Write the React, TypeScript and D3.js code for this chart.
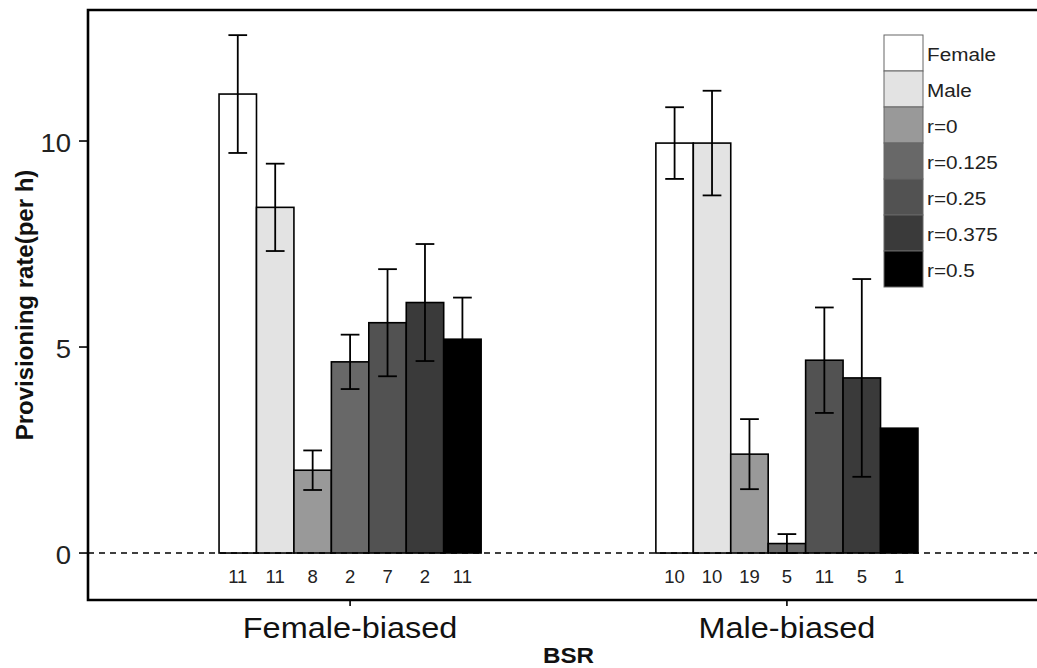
import React from "react";
import * as d3 from "d3";

const groups = ["Female-biased", "Male-biased"];
const series = ["Female", "Male", "r=0", "r=0.125", "r=0.25", "r=0.375", "r=0.5"];
const fills = ["#ffffff", "#e3e3e3", "#999999", "#686868", "#525252", "#3a3a3a", "#000000"];
const femaleBiasedMean = [11.14, 8.39, 2.01, 4.64, 5.59, 6.08, 5.19];
const femaleBiasedSE = [1.43, 1.06, 0.48, 0.66, 1.3, 1.42, 1.01];
const maleBiasedMean = [9.95, 9.95, 2.4, 0.23, 4.68, 4.25, 3.03];
const maleBiasedSE = [0.87, 1.27, 0.85, 0.23, 1.28, 2.4, 0];
const femaleBiasedN = ["11", "11", "8", "2", "7", "2", "11"];
const maleBiasedN = ["10", "10", "19", "5", "11", "5", "1"];
const yTicks = [0, 5, 10];

const W = 1037, H = 668;
const left = 88, top = 10, bottom = 600;
const FONT = "'Liberation Sans', Arial, sans-serif";

export default function App() {
  const y = d3.scaleLinear().domain([-1.14, 13.18]).range([bottom, top]);
  const x = d3.scaleLinear().domain([0.4, 2.6]).range([left, 1049]);
  const groupWidth = 0.6;
  const inner = d3.scaleBand<string>().domain(series).range([-groupWidth / 2, groupWidth / 2]);
  const means = [femaleBiasedMean, maleBiasedMean];
  const ses = [femaleBiasedSE, maleBiasedSE];
  const ns = [femaleBiasedN, maleBiasedN];
  const bw = x(inner.bandwidth()) - x(0);
  const cap = bw * 0.25;

  return (
    <svg width={W} height={H} style={{ position: "absolute", left: 0, top: 0 }} fontFamily={FONT}>
      <rect width={W} height={H} fill="#fff" />
      {groups.map((g, gi) => {
        const c = gi + 1;
        return (
          <g key={g}>
            {series.map((s, si) => {
              const x0 = x(c + (inner(s) as number));
              const m = means[gi][si];
              return (
                <rect key={s} x={x0} y={y(m)} width={bw} height={y(0) - y(m)} fill={fills[si]} stroke="#000" strokeWidth={1.6} />
              );
            })}
          </g>
        );
      })}
      <line x1={left} x2={W} y1={y(0)} y2={y(0)} stroke="#000" strokeWidth={1.6} strokeDasharray="6,5" />
      {groups.map((g, gi) => {
        const c = gi + 1;
        return (
          <g key={g + "e"}>
            {series.map((s, si) => {
              const se = ses[gi][si];
              if (se <= 0) return null;
              const cx = x(c + (inner(s) as number)) + bw / 2;
              const m = means[gi][si];
              const yt = y(m + se), yb = y(Math.max(0, m - se));
              return (
                <g key={s} stroke="#000" strokeWidth={1.8}>
                  <line x1={cx} x2={cx} y1={yt} y2={yb} />
                  <line x1={cx - cap} x2={cx + cap} y1={yt} y2={yt} />
                  <line x1={cx - cap} x2={cx + cap} y1={yb} y2={yb} />
                </g>
              );
            })}
            {series.map((s, si) => (
              <text key={s + "n"} x={x(c + (inner(s) as number)) + bw / 2} y={583} textAnchor="middle" fontSize={18.5} fill="#222">
                {ns[gi][si]}
              </text>
            ))}
            <line x1={x(c)} x2={x(c)} y1={bottom} y2={bottom + 6} stroke="#000" strokeWidth={1.6} />
            <text transform={`translate(${x(c)},638) scale(1.12,1)`} textAnchor="middle" fontSize={29} fill="#111">{g}</text>
          </g>
        );
      })}
      {yTicks.map((t) => (
        <g key={t}>
          <line x1={left - 9} x2={left} y1={y(t)} y2={y(t)} stroke="#000" strokeWidth={1.6} />
          <text transform={`translate(71,${y(t) + 11}) scale(1.1,1)`} textAnchor="end" fontSize={25} fill="#222">{t}</text>
        </g>
      ))}
      <path d={`M${W},${top}H${left}V${bottom}H${W}`} fill="none" stroke="#000" strokeWidth={2.6} />
      <text transform={`translate(33,${(top + bottom) / 2}) rotate(-90)`} textAnchor="middle" fontSize={24} fontWeight="bold" fill="#111">
        Provisioning rate(per h)
      </text>
      <text transform={`translate(${x(1.5)},663) scale(1.1,1)`} textAnchor="middle" fontSize={22} fontWeight="bold" fill="#111">BSR</text>
      {series.map((s, si) => {
        const ly = 35 + si * 36;
        return (
          <g key={s + "l"}>
            <rect x={884} y={ly} width={39} height={36} fill={fills[si]} stroke="#666" strokeWidth={1} />
            <text transform={`translate(927,${ly + 26}) scale(1.12,1)`} fontSize={18.5} fill="#222">{s}</text>
          </g>
        );
      })}
    </svg>
  );
}
